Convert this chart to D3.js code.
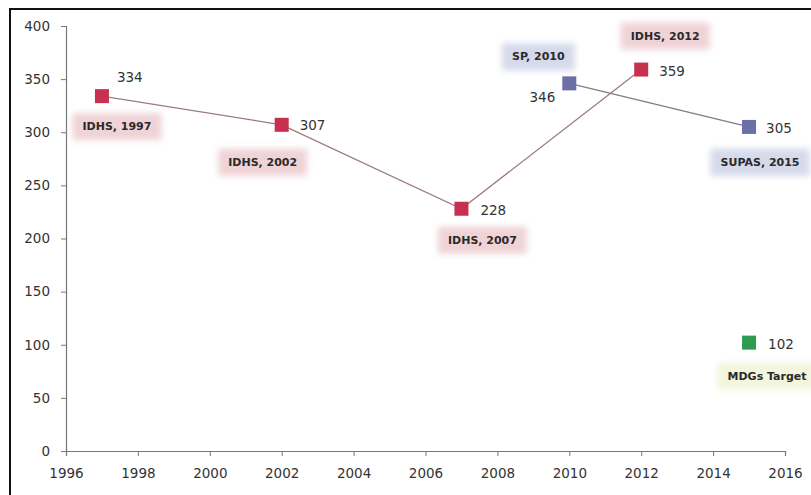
<!DOCTYPE html>
<html>
<head>
<meta charset="utf-8">
<script src="https://cdn.jsdelivr.net/npm/d3@7"></script>
<style>
html,body{margin:0;padding:0;background:#fff;}
svg{display:block;font-family:"DejaVu Sans",sans-serif;}
</style>
</head>
<body>
<svg id="chart" width="811" height="495"></svg>
<script>
// ---- data ----
const xTicks = [1996,1998,2000,2002,2004,2006,2008,2010,2012,2014,2016];
const yTicks = [0,50,100,150,200,250,300,350,400];

const idhsYears  = [1997, 2002, 2007, 2012];
const idhsValues = [334, 307, 228, 359];
const idhsLabels = ["IDHS, 1997","IDHS, 2002","IDHS, 2007","IDHS, 2012"];

const spYears  = [2010, 2015];
const spValues = [346, 305];
const spLabels = ["SP, 2010","SUPAS, 2015"];

const targetYears  = [2015];
const targetValues = [102];
const targetLabels = ["MDGs Target"];

// label placement (offsets in px relative to the point), kept separate from data
const idhsValPos = [[15,-18,"start"],[18,1,"start"],[19,2,"start"],[18,2,"start"]];
const idhsCatPos = [[15,31],[-19,38],[21,32],[24,-33]];
const spValPos = [[-14,15,"end"],[17,2,"start"]];
const spCatPos = [[-31,-26],[11,36]];
const tgValPos = [[19,2,"start"]];
const tgCatPos = [[18,34]];

const svg = d3.select("#chart");
const W = 811, H = 495;

const x = d3.scaleLinear().domain([1996,2016]).range([66,785]);
const y = d3.scaleLinear().domain([0,400]).range([451,26]);

// defs: blur filter for label boxes
const defs = svg.append("defs");
const f = defs.append("filter").attr("id","soft").attr("x","-30%").attr("y","-50%").attr("width","160%").attr("height","200%");
f.append("feGaussianBlur").attr("stdDeviation",3);

// outer frame (left and top)
svg.append("path")
  .attr("d", `M10,${H+5} L10,9 L${W+5},9`)
  .attr("fill","none").attr("stroke","#111").attr("stroke-width",2);

// axes
const yAxis = d3.axisLeft(y).tickValues(yTicks).tickSize(5).tickPadding(11).tickFormat(d3.format("d"));
const xAxis = d3.axisBottom(x).tickValues(xTicks).tickSize(5).tickPadding(12).tickFormat(d3.format("d"));

const gy = svg.append("g").attr("transform","translate(66,0)").call(yAxis);
const gx = svg.append("g").attr("transform","translate(0,451)").call(xAxis);
[gy,gx].forEach(g=>{
  g.select(".domain").attr("stroke","#777").attr("stroke-width",1.2);
  g.selectAll(".tick line").attr("stroke","#777");
  g.selectAll(".tick text").attr("fill","#333").style("font-size","13.5px").style("font-family","'DejaVu Sans',sans-serif");
});

// label helper
function catLabel(px, py, text, bg){
  const g = svg.append("g");
  const t = g.append("text").attr("x",px).attr("y",py).attr("text-anchor","middle")
    .attr("dominant-baseline","middle")
    .style("font-size","11px").style("font-weight","bold").attr("fill","#2a2a2a").text(text);
  const bb = t.node().getBBox();
  g.insert("rect","text").attr("x",bb.x-10).attr("y",bb.y-7).attr("width",bb.width+20).attr("height",bb.height+14)
    .attr("fill",bg).attr("filter","url(#soft)");
}

function valLabel(px, py, text, anchor){
  svg.append("text").attr("x",px).attr("y",py).attr("text-anchor",anchor)
    .attr("dominant-baseline","middle").style("font-size","13.5px").attr("fill","#333").text(text);
}

// category labels (behind)
idhsYears.forEach((yr,i)=>catLabel(x(yr)+idhsCatPos[i][0], y(idhsValues[i])+idhsCatPos[i][1], idhsLabels[i], "#efd3d6"));
spYears.forEach((yr,i)=>catLabel(x(yr)+spCatPos[i][0], y(spValues[i])+spCatPos[i][1], spLabels[i], "#d5d9ea"));
targetYears.forEach((yr,i)=>catLabel(x(yr)+tgCatPos[i][0], y(targetValues[i])+tgCatPos[i][1], targetLabels[i], "#f3f5dc"));

// lines
const line = d3.line().x(d=>x(d[0])).y(d=>y(d[1]));
svg.append("path").datum(idhsYears.map((yr,i)=>[yr,idhsValues[i]]))
  .attr("d",line).attr("fill","none").attr("stroke","#9c7a7e").attr("stroke-width",1.3);
svg.append("path").datum(spYears.map((yr,i)=>[yr,spValues[i]]))
  .attr("d",line).attr("fill","none").attr("stroke","#7c7e8c").attr("stroke-width",1.3);

// markers
const S = 14;
function markers(years, values, color){
  svg.append("g").selectAll("rect").data(years.map((yr,i)=>[yr,values[i]])).join("rect")
    .attr("x",d=>x(d[0])-S/2).attr("y",d=>y(d[1])-S/2).attr("width",S).attr("height",S)
    .attr("fill",color);
}
markers(idhsYears, idhsValues, "#c8304f");
markers(spYears, spValues, "#6a6fa6");
markers(targetYears, targetValues, "#2f9a50");

// value labels
idhsYears.forEach((yr,i)=>valLabel(x(yr)+idhsValPos[i][0], y(idhsValues[i])+idhsValPos[i][1], idhsValues[i], idhsValPos[i][2]));
spYears.forEach((yr,i)=>valLabel(x(yr)+spValPos[i][0], y(spValues[i])+spValPos[i][1], spValues[i], spValPos[i][2]));
targetYears.forEach((yr,i)=>valLabel(x(yr)+tgValPos[i][0], y(targetValues[i])+tgValPos[i][1], targetValues[i], tgValPos[i][2]));
</script>
</body>
</html>
